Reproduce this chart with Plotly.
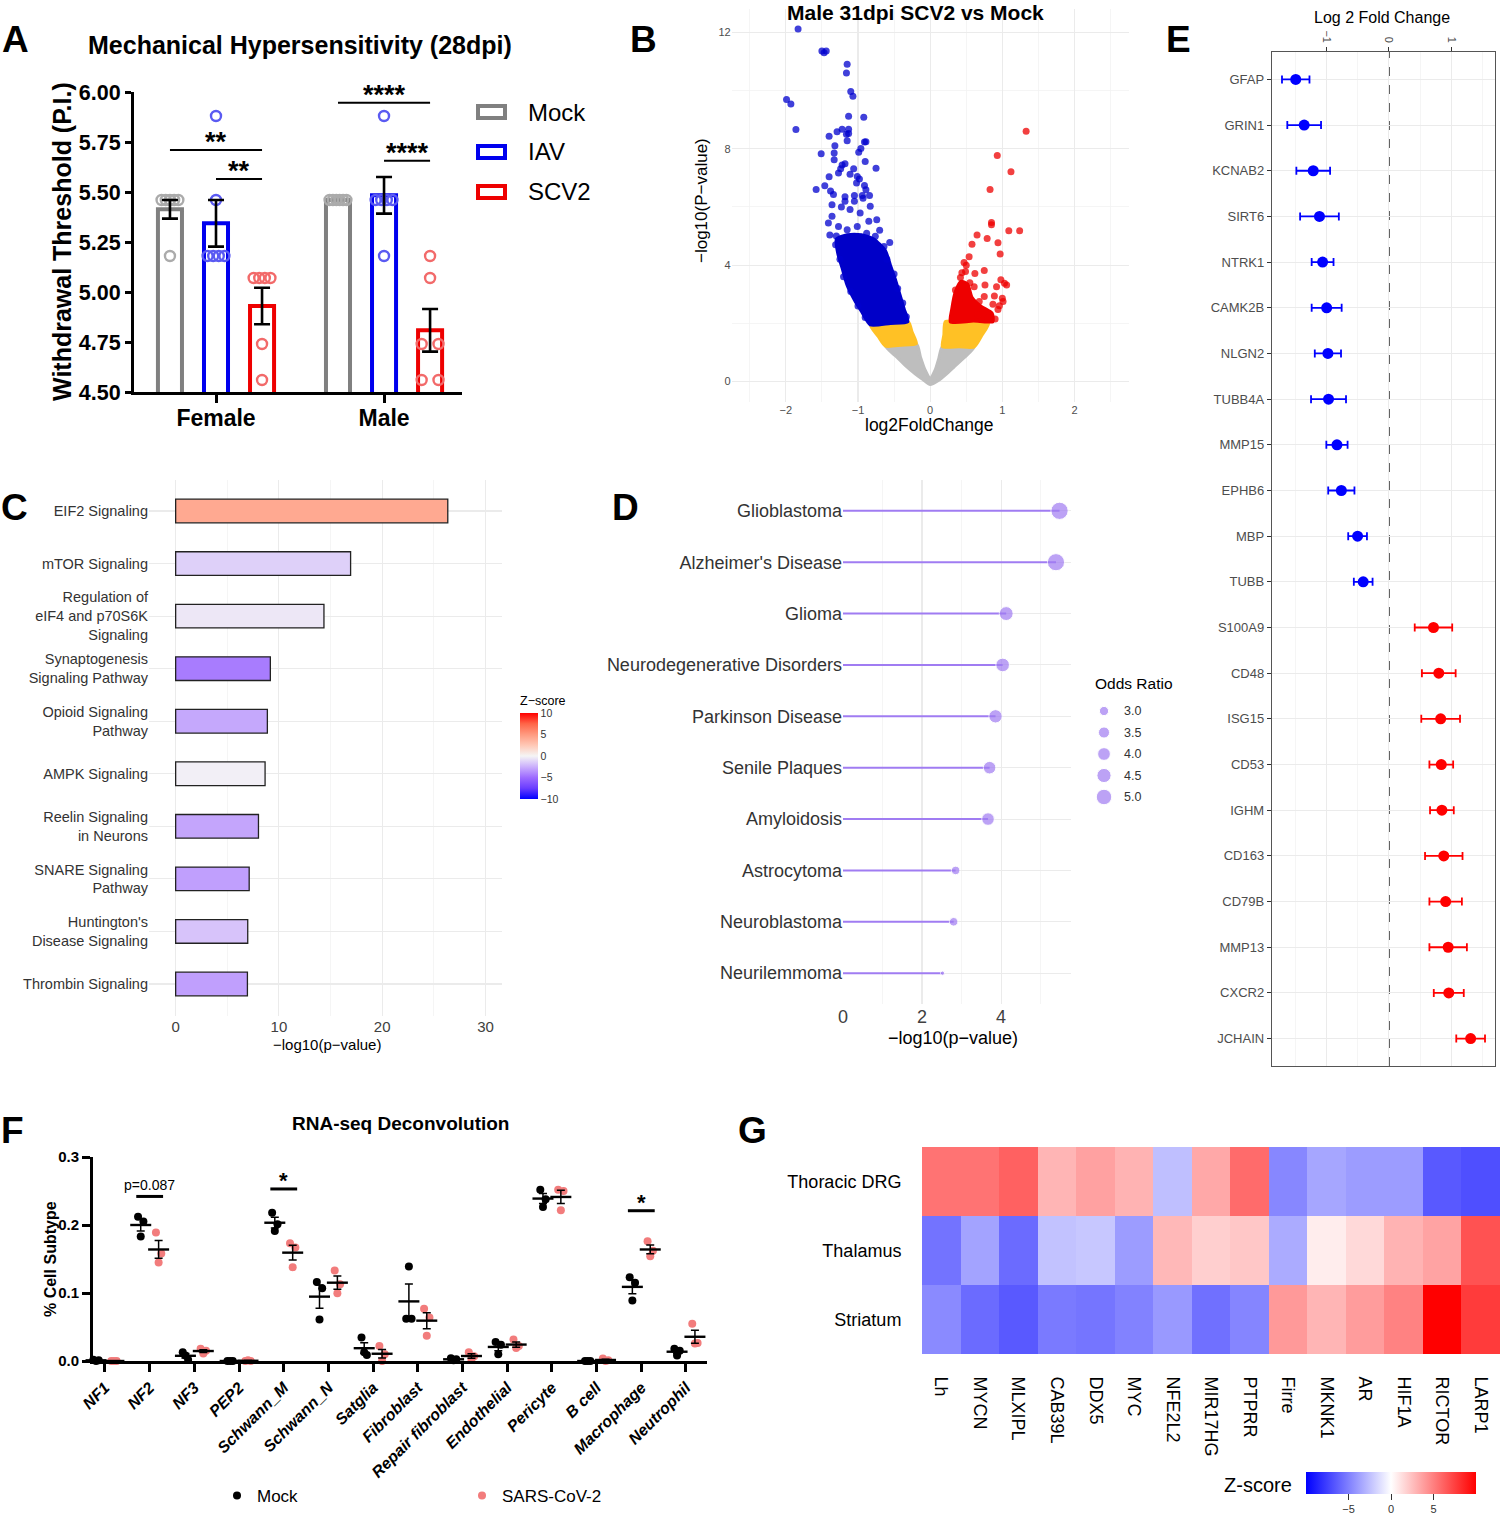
import numpy as np
import plotly.graph_objects as go
from collections import Counter

W, H = 1500, 1520
OFF = 0
FONT = "Liberation Sans, Arial, sans-serif"


def xd(a, b):
    return [(a - OFF) / W, (b - OFF) / W]


def yd(top, bottom):
    return [1 - (bottom - OFF) / H, 1 - (top - OFF) / H]


def px(x):
    return (x - OFF) / W


def py(y):
    return 1 - (y - OFF) / H


# ---------------- Panel A data ----------------
a_groups = ["Female", "Male"]
a_series = ["Mock", "IAV", "SCV2"]
a_female_mock = [5.46, 5.46, 5.46, 5.46, 5.46, 5.18]
a_female_iav = [5.88, 5.46, 5.18, 5.18, 5.18, 5.18]
a_female_scv2 = [5.07, 5.07, 5.07, 5.07, 4.74, 4.56]
a_male_mock = [5.46, 5.46, 5.46, 5.46, 5.46, 5.46]
a_male_iav = [5.88, 5.46, 5.46, 5.46, 5.46, 5.18]
a_male_scv2 = [5.18, 5.07, 4.74, 4.74, 4.56, 4.56]
a_yticks = [4.50, 4.75, 5.00, 5.25, 5.50, 5.75, 6.00]
# (group index, series from, series to, bracket level, label)
a_brackets = [(0, 0, 2, 5.71, "**"), (0, 1, 2, 5.565, "**"),
              (1, 0, 2, 5.946, "****"), (1, 1, 2, 5.656, "****")]

# ---------------- Panel B data (volcano) ----------------
b_gray_lfc = [-0.62, -0.46, -0.33, -0.20, -0.10, 0.00, 0.12, 0.22, 0.33, 0.47, 0.61,
              0.17, 0.12, 0.07, 0.00, -0.07, -0.135, -0.19]
b_gray_p = [1.22, 0.84, 0.52, 0.25, 0.07, -0.10, 0.05, 0.25, 0.50, 0.82, 1.19,
            1.20, 0.80, 0.40, 0.12, 0.40, 0.85, 1.30]
b_yel_left_lfc = [-0.83, -0.55, -0.30, -0.25, -0.19, -0.40, -0.62, -0.72]
b_yel_left_p = [1.95, 2.00, 2.05, 1.70, 1.30, 1.25, 1.22, 1.55]
b_yel_right_lfc = [0.21, 0.50, 0.81, 0.72, 0.61, 0.40, 0.17, 0.19]
b_yel_right_p = [2.06, 2.05, 2.00, 1.60, 1.19, 1.20, 1.20, 1.60]
b_blue_core_lfc = [-1.30, -1.15, -0.95, -0.78, -0.62, -0.55, -0.48, -0.42, -0.36, -0.31,
                   -0.55, -0.83, -0.95, -1.05, -1.15, -1.22, -1.28]
b_blue_core_p = [4.90, 5.05, 5.05, 4.90, 4.50, 4.00, 3.50, 3.00, 2.50, 2.05,
                 2.00, 1.95, 2.40, 2.80, 3.30, 3.90, 4.40]
b_red_core_lfc = [0.28, 0.30, 0.35, 0.43, 0.52, 0.58, 0.70, 0.86, 0.87, 0.60]
b_red_core_p = [2.05, 2.50, 3.10, 3.45, 3.35, 2.90, 2.60, 2.35, 2.06, 2.08]
b_blue_lfc = [-1.83, -1.50, -1.47, -1.44, -1.15, -1.16, -1.10, -1.07, -1.99, -1.93,
              -1.13, -0.92, -1.86, -1.40, -1.29, -1.22, -1.13, -1.16, -1.13, -1.15,
              -0.91, -0.89, -1.32, -0.96, -0.99, -1.51, -1.33, -1.33, -0.90, -0.75,
              -1.22, -1.18, -1.06, -1.24, -1.27, -1.11, -1.01, -0.98, -1.40, -1.02,
              -0.91, -1.46, -1.58, -1.38, -1.34, -0.89, -1.18, -1.05, -0.94, -0.84,
              -1.36, -1.41, -1.39, -1.31, -0.56, -0.33, -1.18, -1.05, -0.93, -0.83,
              -1.23, -1.11, -0.97, -0.85, -0.74, -1.36, -1.27, -1.15, -1.01, -0.88,
              -0.76, -0.64, -0.60, -0.50, -0.45, -0.38, -1.25, -1.20, -1.10, -1.00,
              -0.90, -1.30, -0.70]
b_blue_p = [12.11, 11.36, 11.30, 11.36, 10.90, 10.60, 9.97, 9.80, 9.69, 9.54,
            9.12, 9.08, 8.66, 8.43, 8.58, 8.67, 8.67, 8.50, 8.52, 8.27,
            8.23, 8.24, 8.10, 8.01, 7.88, 7.83, 7.85, 7.62, 7.56, 7.33,
            7.44, 7.48, 7.31, 7.31, 7.17, 7.12, 7.05, 6.96, 7.04, 6.82,
            6.74, 6.73, 6.60, 6.55, 6.43, 6.59, 6.35, 6.39, 6.39, 6.39,
            6.08, 5.45, 5.04, 4.70, 4.78, 2.23, 6.20, 6.20, 6.30, 6.02,
            6.00, 5.91, 5.79, 5.51, 5.56, 5.68, 5.33, 5.22, 5.33, 5.10,
            4.99, 4.64, 4.20, 3.70, 3.20, 2.70, 4.20, 3.60, 3.10, 2.60,
            2.20, 5.00, 5.20]
b_red_lfc = [1.33, 0.93, 1.12, 0.83, 0.85, 0.85, 1.09, 1.24, 0.65, 0.79,
             0.58, 0.94, 0.97, 0.54, 0.47, 0.50, 0.75, 0.62, 0.44, 0.49,
             0.42, 0.55, 0.76, 0.98, 1.03, 1.06, 0.92, 0.89, 1.00, 1.01,
             0.96, 0.94, 0.87, 0.75, 0.68, 0.61, 0.35, 0.80, 0.90, 0.66, 0.40]
b_red_p = [8.60, 7.77, 7.21, 6.60, 5.47, 5.39, 5.18, 5.18, 5.04, 4.92,
           4.72, 4.77, 4.38, 4.29, 4.09, 4.00, 3.82, 3.71, 3.74, 3.78,
           3.58, 3.40, 3.32, 3.50, 3.38, 3.32, 3.26, 2.94, 2.86, 2.75,
           2.61, 2.48, 2.66, 2.92, 2.75, 3.26, 3.15, 2.20, 2.15, 2.30, 2.80]

# ---------------- Panel C data ----------------
c_paths = ["EIF2 Signaling", "mTOR Signaling", "Regulation of<br>eIF4 and p70S6K<br>Signaling",
           "Synaptogenesis<br>Signaling Pathway", "Opioid Signaling<br>Pathway", "AMPK Signaling",
           "Reelin Signaling<br>in Neurons", "SNARE Signaling<br>Pathway",
           "Huntington's<br>Disease Signaling", "Thrombin Signaling"]
c_logp = [26.35, 16.94, 14.36, 9.17, 8.88, 8.66, 8.02, 7.12, 6.98, 6.95]
c_z = [4.2, -1.35, -0.5, -4.4, -2.8, -0.2, -2.9, -3.1, -1.8, -3.1]

# ---------------- Panel D data ----------------
d_terms = ["Glioblastoma", "Alzheimer's Disease", "Glioma", "Neurodegenerative Disorders",
           "Parkinson Disease", "Senile Plaques", "Amyloidosis", "Astrocytoma",
           "Neuroblastoma", "Neurilemmoma"]
d_logp = [5.48, 5.39, 4.13, 4.04, 3.86, 3.71, 3.67, 2.85, 2.80, 2.52]
d_or = [5.75, 5.70, 4.40, 4.30, 4.20, 3.95, 3.95, 2.85, 2.85, 2.15]
d_legend_or = [3.0, 3.5, 4.0, 4.5, 5.0]

# ---------------- Panel E data ----------------
e_genes = ["GFAP", "GRIN1", "KCNAB2", "SIRT6", "NTRK1", "CAMK2B", "NLGN2", "TUBB4A", "MMP15",
           "EPHB6", "MBP", "TUBB", "S100A9", "CD48", "ISG15", "CD53", "IGHM", "CD163",
           "CD79B", "MMP13", "CXCR2", "JCHAIN"]
e_lfc = [-1.49, -1.355, -1.21, -1.11, -1.06, -0.995, -0.975, -0.965, -0.83, -0.76, -0.50,
         -0.41, 0.715, 0.80, 0.83, 0.84, 0.85, 0.88, 0.91, 0.95, 0.96, 1.31]
e_err = [0.22, 0.27, 0.27, 0.31, 0.175, 0.24, 0.21, 0.28, 0.17, 0.21, 0.15,
         0.15, 0.30, 0.27, 0.31, 0.19, 0.19, 0.30, 0.26, 0.30, 0.24, 0.23]

# ---------------- Panel F data ----------------
f_cells = ["NF1", "NF2", "NF3", "PEP2", "Schwann_M", "Schwann_N", "Satglia", "Fibroblast",
           "Repair fibroblast", "Endothelial", "Pericyte", "B cell", "Macrophage", "Neutrophil"]
f_mock = [[0.002, 0.001, 0.000], [0.212, 0.205, 0.183], [0.013, 0.002, 0.008],
          [0.000, 0.000, 0.000], [0.218, 0.201, 0.191], [0.116, 0.107, 0.061],
          [0.0345, 0.009, 0.013], [0.062, 0.062, 0.139], [0.004, 0.0025, 0.001],
          [0.028, 0.024, 0.010], [0.252, 0.238, 0.2266], [0.000, 0.000, 0.000],
          [0.123, 0.115, 0.089], [0.018, 0.015, 0.008]]
f_sars = [[0.000, 0.000, 0.000], [0.189, 0.158, 0.145], [0.018, 0.015, 0.011],
          [0.000, 0.000, 0.001], [0.173, 0.167, 0.138], [0.133, 0.113, 0.0995],
          [0.022, 0.010, 0.000], [0.077, 0.064, 0.037], [0.013, 0.007, 0.002],
          [0.0315, 0.022, 0.019], [0.252, 0.250, 0.2217], [0.0035, 0.001, 0.000],
          [0.176, 0.162, 0.154], [0.0547, 0.0266, 0.0256]]
f_sig = [("NF2", 0.242, "p=0.087"), ("Schwann_M", 0.253, "*"), ("Macrophage", 0.221, "*")]
f_yticks = [0.0, 0.1, 0.2, 0.3]

# ---------------- Panel G data ----------------
g_genes = ["Lh", "MYCN", "MLXIPL", "CAB39L", "DDX5", "MYC", "NFE2L2", "MIR17HG", "PTPRR",
           "Firre", "MKNK1", "AR", "HIF1A", "RICTOR", "LARP1"]
g_tissues = ["Thoracic DRG", "Thalamus", "Striatum"]
g_thoracic = [5.5, 5.5, 6.2, 2.9, 3.7, 3.0, -2.5, 3.4, 5.8, -4.7, -3.5, -3.9, -3.9, -6.5, -6.9]
g_thalamus = [-5.5, -3.6, -5.8, -2.4, -2.2, -3.9, 2.8, 1.9, 2.2, -3.3, 0.7, 1.5, 3.0, 3.6, 6.8]
g_striatum = [-4.6, -5.8, -6.5, -5.2, -5.4, -4.9, -4.0, -5.6, -4.8, 4.0, 2.9, 3.9, 4.9, 10.0, 7.7]

# =====================================================================
fig = go.Figure()
annotations = []
shapes = []


def ann(x, y, text, size, color="black", bold=False, xanchor="center", yanchor="middle",
        textangle=0, **kw):
    if bold:
        text = "<b>" + text + "</b>"
    annotations.append(dict(x=px(x), y=py(y), xref="paper", yref="paper", text=text,
                            showarrow=False, font=dict(size=size, color=color, family=FONT),
                            xanchor=xanchor, yanchor=yanchor, textangle=textangle, **kw))


# ---------------- Panel A ----------------
a_data = {("Female", "Mock"): a_female_mock, ("Female", "IAV"): a_female_iav,
          ("Female", "SCV2"): a_female_scv2, ("Male", "Mock"): a_male_mock,
          ("Male", "IAV"): a_male_iav, ("Male", "SCV2"): a_male_scv2}
a_line = {"Mock": "#808080", "IAV": "#0000EE", "SCV2": "#EE0000"}
a_pt = {"Mock": "#ABABAB", "IAV": "#5A5AF2", "SCV2": "#F26A6A"}
A_OFF = 0.274


def spread(vals, span=0.1):
    counts = Counter(vals)
    seen = Counter()
    offs = []
    for v in vals:
        n = counts[v]
        k = seen[v]
        seen[v] += 1
        offs.append(0.0 if n == 1 else -span / 2 + span * k / (n - 1))
    return offs


for si, s in enumerate(a_series):
    bx, bm = [], []
    for gi, g in enumerate(a_groups):
        vals = np.array(a_data[(g, s)])
        bx.append(gi + (si - 1) * A_OFF)
        bm.append(float(vals.mean()))
    fig.add_trace(go.Bar(x=bx, y=bm, width=0.143, xaxis="x", yaxis="y", showlegend=False,
                         marker=dict(color="white", line=dict(color=a_line[s], width=4)),
                         hoverinfo="skip"))
for si, s in enumerate(a_series):
    for gi, g in enumerate(a_groups):
        vals = a_data[(g, s)]
        xc = gi + (si - 1) * A_OFF
        offs = spread(vals)
        fig.add_trace(go.Scatter(x=[xc + o for o in offs], y=vals, mode="markers",
                                 xaxis="x", yaxis="y", showlegend=False, cliponaxis=False,
                                 marker=dict(symbol="circle-open", size=10, color=a_pt[s],
                                             line=dict(width=2.4, color=a_pt[s])),
                                 hoverinfo="skip"))
for si, s in enumerate(a_series):
    ex, ey, ee = [], [], []
    for gi, g in enumerate(a_groups):
        vals = np.array(a_data[(g, s)])
        sem = float(vals.std(ddof=1) / np.sqrt(len(vals)))
        if sem > 1e-6:
            ex.append(gi + (si - 1) * A_OFF)
            ey.append(float(vals.mean()))
            ee.append(sem)
    fig.add_trace(go.Scatter(x=ex, y=ey, mode="markers", xaxis="x", yaxis="y",
                             showlegend=False, marker=dict(size=1, opacity=0),
                             error_y=dict(type="data", array=ee, color="black",
                                          thickness=2.6, width=8),
                             hoverinfo="skip"))
for gi, s0, s1, lvl, lab in a_brackets:
    x0 = gi + (s0 - 1) * A_OFF
    x1 = gi + (s1 - 1) * A_OFF
    shapes.append(dict(type="line", xref="x", yref="y", x0=x0, x1=x1, y0=lvl, y1=lvl,
                       line=dict(color="black", width=2)))
    annotations.append(dict(x=(x0 + x1) / 2, y=lvl, xref="x", yref="y", text="<b>" + lab + "</b>",
                            showarrow=False, font=dict(size=27, color="black", family=FONT),
                            xanchor="center", yanchor="bottom", yshift=-9))

ann(300, 45, "Mechanical Hypersensitivity (28dpi)", 25, bold=True)
ann(62, 242, "Withdrawal Threshold (P.I.)", 25, bold=True, textangle=-90)
for i, s in enumerate(a_series):
    yc = 112 + 40 * i
    shapes.append(dict(type="rect", xref="paper", yref="paper", x0=px(478), x1=px(505),
                       y0=py(yc + 6), y1=py(yc - 6), fillcolor="white",
                       line=dict(color=a_line[s], width=4)))
    ann(526, yc, s, 24, xanchor="left")

# ---------------- Panel B ----------------
for lx, ly, col in [(b_gray_lfc, b_gray_p, "#BEBEBE"),
                    (b_yel_left_lfc, b_yel_left_p, "#FFC125"),
                    (b_yel_right_lfc, b_yel_right_p, "#FFC125"),
                    (b_blue_core_lfc, b_blue_core_p, "#0000C8"),
                    (b_red_core_lfc, b_red_core_p, "#EE0000")]:
    fig.add_trace(go.Scatter(x=lx + [lx[0]], y=ly + [ly[0]], mode="lines", fill="toself",
                             fillcolor=col, line=dict(color=col, width=3, shape="spline",
                                                      smoothing=0.6),
                             xaxis="x2", yaxis="y2", showlegend=False, hoverinfo="skip"))
fig.add_trace(go.Scatter(x=b_blue_lfc, y=b_blue_p, mode="markers", xaxis="x2", yaxis="y2",
                         showlegend=False, hoverinfo="skip",
                         marker=dict(size=7, color="rgba(0,0,205,0.75)")))
fig.add_trace(go.Scatter(x=b_red_lfc, y=b_red_p, mode="markers", xaxis="x2", yaxis="y2",
                         showlegend=False, hoverinfo="skip",
                         marker=dict(size=7, color="rgba(238,0,0,0.75)")))
ann(915, 13, "Male 31dpi SCV2 vs Mock", 21, bold=True)
ann(702, 201, "\u2212log10(P\u2212value)", 17, textangle=-90)
ann(929, 425, "log2FoldChange", 17.5)

# ---------------- Panel C ----------------
c_scale = [[0, "#0000FF"], [0.125, "#6A3DFF"], [0.25, "#9D6BFF"], [0.375, "#CBB0FC"],
           [0.5, "#F5F5F5"], [0.625, "#FFC8B6"], [0.75, "#FF9A80"], [0.875, "#FF6548"],
           [1, "#FF0000"]]
fig.add_trace(go.Bar(x=c_logp, y=list(range(len(c_paths))), orientation="h", width=0.45,
                     xaxis="x3", yaxis="y3", showlegend=False, hoverinfo="skip",
                     marker=dict(color=c_z, colorscale=c_scale, cmin=-10, cmax=10,
                                 line=dict(color="#222222", width=1.3),
                                 colorbar=dict(x=px(520), xanchor="left", y=py(713),
                                               yanchor="top", len=86, lenmode="pixels",
                                               thickness=18, thicknessmode="pixels",
                                               xpad=0, ypad=0, outlinewidth=0,
                                               tickvals=[-10, -5, 0, 5, 10], ticks="",
                                               tickfont=dict(size=10.5, color="#333333")))))
ann(543, 701, "Z\u2212score", 12.5)
ann(327, 1044, "\u2212log10(p\u2212value)", 15)

# ---------------- Panel D ----------------
D_COL = "#A07CF2"


def d_size(v):
    return float(np.sqrt(max(77.7 * v - 148.5, 4.0)))


seg_x, seg_y = [], []
for i, v in enumerate(d_logp):
    seg_x += [0, v, None]
    seg_y += [i, i, None]
fig.add_trace(go.Scatter(x=seg_x, y=seg_y, mode="lines", line=dict(color=D_COL, width=2),
                         xaxis="x4", yaxis="y4", showlegend=False, hoverinfo="skip"))
fig.add_trace(go.Scatter(x=d_logp, y=list(range(len(d_terms))), mode="markers",
                         xaxis="x4", yaxis="y4", showlegend=False, hoverinfo="skip",
                         cliponaxis=False,
                         marker=dict(size=[d_size(v) for v in d_or], color=D_COL)))
fig.add_trace(go.Scatter(x=[9] * len(d_legend_or), y=d_legend_or, mode="markers",
                         xaxis="x5", yaxis="y5", showlegend=False, hoverinfo="skip",
                         cliponaxis=False,
                         marker=dict(size=[d_size(v) for v in d_legend_or], color=D_COL)))
for v in d_legend_or:
    annotations.append(dict(x=27, y=v, xref="x5", yref="y5", text="%.1f" % v, showarrow=False,
                            xanchor="left", yanchor="middle",
                            font=dict(size=12.5, color="#333333", family=FONT)))
ann(1093, 684, "Odds Ratio", 15.5, xanchor="left")
ann(953, 1038, "\u2212log10(p\u2212value)", 18)

# ---------------- Panel E ----------------
e_idx = list(range(len(e_genes)))
for sign, col in [(-1, "#0000FF"), (1, "#FF0000")]:
    xs = [v for v in e_lfc if np.sign(v) == sign]
    ys = [i for i, v in zip(e_idx, e_lfc) if np.sign(v) == sign]
    es = [e for e, v in zip(e_err, e_lfc) if np.sign(v) == sign]
    fig.add_trace(go.Scatter(x=xs, y=ys, mode="markers", xaxis="x6", yaxis="y6",
                             showlegend=False, hoverinfo="skip",
                             marker=dict(size=11, color=col),
                             error_x=dict(type="data", array=es, color=col, thickness=1.8,
                                          width=4)))
shapes.append(dict(type="line", xref="x6", yref="y6 domain", x0=0, x1=0, y0=0, y1=1,
                   layer="below", line=dict(color="black", width=1.6, dash="dash")))
ann(1382, 18, "Log 2 Fold Change", 16)

# ---------------- Panel F ----------------
F_JIT = [-0.06, 0.06, 0.0]
F_OFF = 0.2
for vals, off, col, name in [(f_mock, -F_OFF, "black", "Mock"),
                             (f_sars, F_OFF, "#F27C7C", "SARS-CoV-2")]:
    xs, ys = [], []
    mx, my, me = [], [], []
    for i, trip in enumerate(vals):
        for j, v in enumerate(trip):
            xs.append(i + off + F_JIT[j])
            ys.append(v)
        arr = np.array(trip)
        mx.append(i + off)
        my.append(float(arr.mean()))
        me.append(float(arr.std(ddof=1) / np.sqrt(len(arr))))
    fig.add_trace(go.Scatter(x=xs, y=ys, mode="markers", name=name, xaxis="x7", yaxis="y7",
                             cliponaxis=False, hoverinfo="skip",
                             marker=dict(size=8, color=col), showlegend=True))
    fig.add_trace(go.Scatter(x=mx, y=my, mode="markers", xaxis="x7", yaxis="y7",
                             showlegend=False, hoverinfo="skip", cliponaxis=False,
                             marker=dict(symbol="line-ew", size=15, color="black",
                                         line=dict(width=2.4, color="black")),
                             error_y=dict(type="data", array=me, color="black",
                                          thickness=1.5, width=4)))
for cell, lvl, lab in f_sig:
    i = f_cells.index(cell)
    shapes.append(dict(type="line", xref="x7", yref="y7", x0=i - 0.3, x1=i + 0.3, y0=lvl,
                       y1=lvl, line=dict(color="black", width=3)))
    if lab == "*":
        annotations.append(dict(x=i, y=lvl, xref="x7", yref="y7", text="<b>*</b>",
                                showarrow=False, xanchor="center", yanchor="bottom", yshift=-6,
                                font=dict(size=22, color="black", family=FONT)))
    else:
        annotations.append(dict(x=i, y=lvl, xref="x7", yref="y7", text=lab,
                                showarrow=False, xanchor="center", yanchor="bottom", yshift=1,
                                font=dict(size=14, color="black", family=FONT)))
ann(400, 1123, "RNA-seq Deconvolution", 19, bold=True)
ann(50, 1259, "% Cell Subtype", 16, bold=True, textangle=-90)

# ---------------- Panel G ----------------
fig.add_trace(go.Heatmap(z=[g_thoracic, g_thalamus, g_striatum], x=g_genes, y=g_tissues,
                         xaxis="x8", yaxis="y8", zmin=-10, zmax=10, hoverinfo="skip",
                         colorscale=[[0, "#0000FF"], [0.5, "#FFFFFF"], [1, "#FF0000"]],
                         colorbar=dict(orientation="h", x=px(1306), xanchor="left",
                                       y=py(1472), yanchor="top", len=170, lenmode="pixels",
                                       thickness=22, thicknessmode="pixels", xpad=0, ypad=0,
                                       outlinewidth=0, tickvals=[-5, 0, 5], ticks="outside",
                                       ticklen=6, tickcolor="#333333",
                                       tickfont=dict(size=11, color="#333333"))))
ann(1294, 1485, "Z-score", 20, xanchor="right")

# ---------------- panel letters ----------------
for lab, x, y in [("A", 15, 40), ("B", 643, 40), ("C", 14, 507), ("D", 625, 507),
                  ("E", 1178, 40), ("F", 12, 1130), ("G", 752, 1130)]:
    ann(x, y, lab, 37, bold=True)

# ---------------- axes ----------------
GRID = "#EBEBEB"
MINOR = "#F3F3F3"
TXT = "#404040"
layout_axes = dict(
    xaxis=dict(domain=xd(134, 462), range=[-0.488, 1.464], anchor="y", showgrid=False,
               zeroline=False, showline=True, linecolor="black", linewidth=3,
               ticks="outside", ticklen=8, tickwidth=3, tickcolor="black",
               tickvals=[0, 1], ticktext=a_groups, ticklabelstandoff=-5,
               tickfont=dict(size=23, color="black", weight="bold")),
    yaxis=dict(domain=yd(92, 392), range=[4.5, 6.0], anchor="x", showgrid=False,
               zeroline=False, showline=True, linecolor="black", linewidth=3,
               ticks="outside", ticklen=6, tickwidth=3, tickcolor="black",
               tickvals=a_yticks, tickformat=".2f",
               tickfont=dict(size=21.5, color="black", weight="bold")),
    xaxis2=dict(domain=xd(731.7, 1128.6), range=[-2.75, 2.75], anchor="y2", showgrid=True,
                gridcolor=GRID, gridwidth=1.1, zeroline=False, tickvals=[-2, -1, 0, 1, 2],
                ticks="", tickfont=dict(size=11, color="#4D4D4D"),
                minor=dict(dtick=0.5, tick0=0, showgrid=True, gridcolor=MINOR, gridwidth=0.8)),
    yaxis2=dict(domain=yd(9, 402), range=[-0.7, 12.8], anchor="x2", showgrid=True,
                gridcolor=GRID, gridwidth=1.1, zeroline=False, tickvals=[0, 4, 8, 12],
                ticks="", tickfont=dict(size=11, color="#4D4D4D"),
                minor=dict(dtick=2, tick0=0, showgrid=True, gridcolor=MINOR, gridwidth=0.8)),
    xaxis3=dict(domain=xd(149, 502), range=[-2.58, 31.6], anchor="y3", showgrid=True,
                gridcolor=GRID, gridwidth=1.1, zeroline=False, tickvals=[0, 10, 20, 30],
                ticks="", tickfont=dict(size=15, color=TXT),
                minor=dict(tickvals=[5, 15, 25], showgrid=True, gridcolor=MINOR, gridwidth=0.8)),
    yaxis3=dict(domain=yd(479.5, 1015.5), range=[9.6, -0.6], anchor="x3", showgrid=True,
                gridcolor=GRID, gridwidth=1.1, zeroline=False,
                tickvals=list(range(len(c_paths))), ticktext=c_paths, ticks="",
                tickfont=dict(size=14.5, color="#333333")),
    xaxis4=dict(domain=xd(843, 1071), range=[0, 5.77], anchor="y4", showgrid=True,
                gridcolor=GRID, gridwidth=1.1, zeroline=False, tickvals=[0, 2, 4],
                ticks="", tickfont=dict(size=18, color=TXT),
                minor=dict(tickvals=[1, 3, 5], showgrid=True, gridcolor=MINOR, gridwidth=0.8)),
    yaxis4=dict(domain=yd(480, 1004), range=[9.6, -0.6], anchor="x4", showgrid=True,
                gridcolor=GRID, gridwidth=1.1, zeroline=False,
                tickvals=list(range(len(d_terms))), ticktext=d_terms, ticks="",
                tickfont=dict(size=18, color="#333333")),
    xaxis5=dict(domain=xd(1095, 1180), range=[0, 85], anchor="y5", visible=False),
    yaxis5=dict(domain=yd(700, 808), range=[5.256, 2.744], anchor="x5", visible=False),
    xaxis6=dict(domain=xd(1272, 1495), range=[-1.87, 1.70], anchor="y6", side="top",
                showgrid=True, gridcolor=GRID, gridwidth=1.1, zeroline=False,
                showline=True, mirror=True, linecolor="#555555", linewidth=1.2,
                tickvals=[-1, 0, 1], tickangle=90, ticks="outside", ticklen=4,
                tickcolor="#333333", tickfont=dict(size=11, color="#4D4D4D"),
                minor=dict(tickvals=[-1.5, -0.5, 0.5, 1.5], showgrid=True, gridcolor=MINOR,
                           gridwidth=0.8)),
    yaxis6=dict(domain=yd(52, 1066), range=[21.6, -0.6], anchor="x6", showgrid=True,
                gridcolor=GRID, gridwidth=1.1, zeroline=False, showline=True, mirror=True,
                linecolor="#555555", linewidth=1.2, tickvals=e_idx, ticktext=e_genes,
                ticks="outside", ticklen=4, tickcolor="#333333",
                tickfont=dict(size=13, color="#4D4D4D")),
    xaxis7=dict(domain=xd(93, 707), range=[-0.268, 13.47], anchor="y7", showgrid=False,
                zeroline=False, showline=True, linecolor="black", linewidth=3,
                ticks="outside", ticklen=8, tickwidth=3, tickcolor="black",
                tickvals=list(range(len(f_cells))),
                ticktext=["<b><i>" + c + "</i></b>" for c in f_cells], tickangle=-45,
                tickfont=dict(size=16, color="black")),
    yaxis7=dict(domain=yd(1157, 1361), range=[0, 0.3], anchor="x7", showgrid=False,
                zeroline=False, showline=True, linecolor="black", linewidth=3,
                ticks="outside", ticklen=8, tickwidth=3, tickcolor="black",
                tickvals=f_yticks, ticktext=["%.1f" % v for v in f_yticks],
                tickfont=dict(size=15, color="black", weight="bold")),
    xaxis8=dict(domain=xd(922, 1500), anchor="y8", showgrid=False, zeroline=False,
                tickangle=90, ticks="outside", ticklen=18, tickcolor="rgba(0,0,0,0)",
                tickfont=dict(size=18, color="black")),
    yaxis8=dict(domain=yd(1147, 1354), anchor="x8", showgrid=False, zeroline=False,
                autorange="reversed", ticks="outside", ticklen=16,
                tickcolor="rgba(0,0,0,0)", tickfont=dict(size=18, color="black")),
)
for k in layout_axes:
    layout_axes[k]["automargin"] = False

fig.update_layout(
    template="none",
    width=W, height=H, margin=dict(l=0, r=0, t=0, b=0, pad=0, autoexpand=False),
    paper_bgcolor="white", plot_bgcolor="white",
    font=dict(family=FONT, color="black"),
    annotations=annotations, shapes=shapes, bargap=0,
    legend=dict(orientation="h", x=px(217), y=py(1496), xanchor="left", yanchor="middle",
                entrywidth=200, entrywidthmode="pixels", font=dict(size=17, color="black"),
                bgcolor="rgba(0,0,0,0)", itemsizing="trace"),
    **layout_axes,
)

fig.write_html("out.html",
               config={"displayModeBar": False, "staticPlot": True},
               post_script="document.body.style.margin='0px';"
                           "document.body.style.overflow='hidden';")
